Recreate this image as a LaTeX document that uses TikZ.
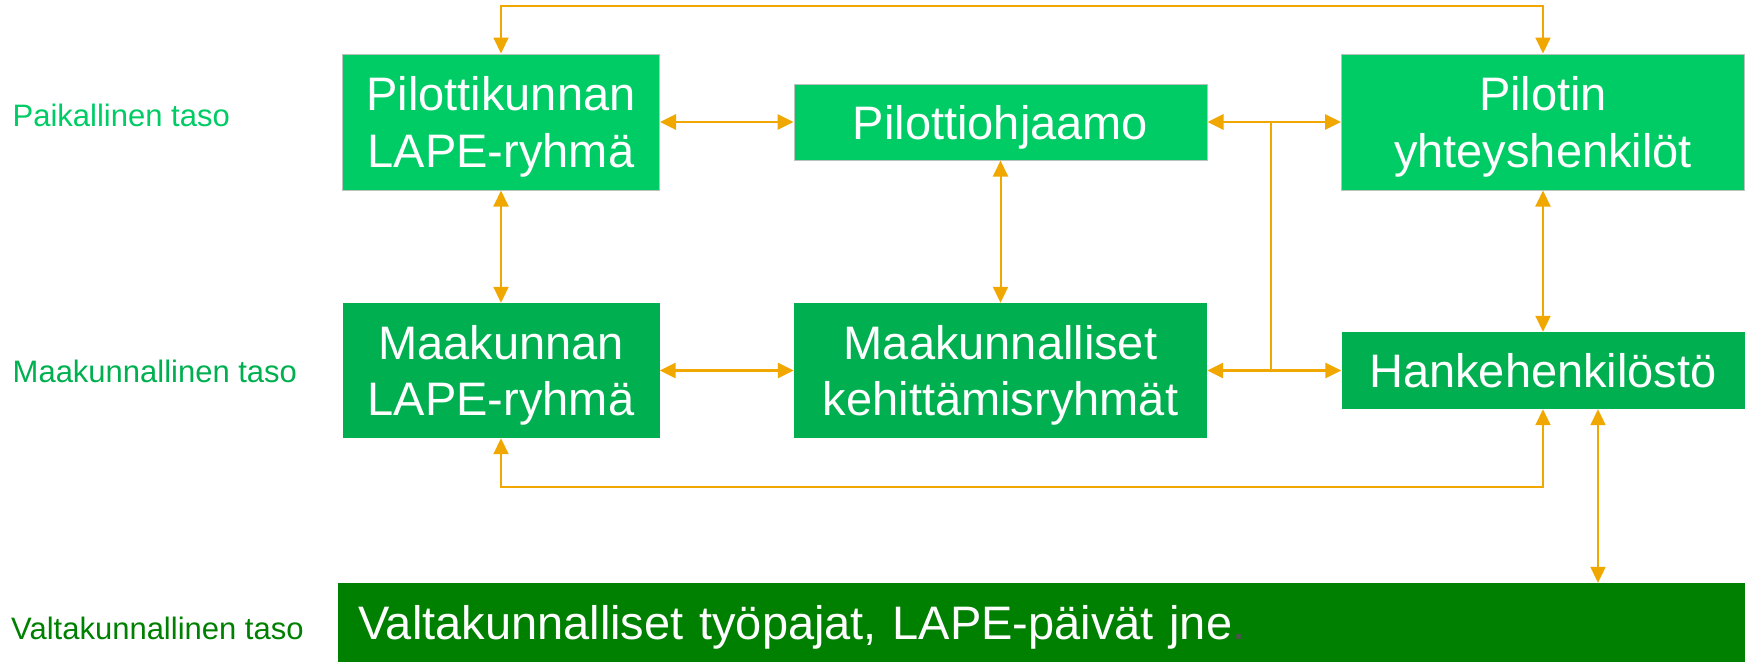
\documentclass[tikz,border=0pt]{standalone}
\usepackage{fontspec}
\setmainfont{Liberation Sans}
\usepackage{tikz}
\usetikzlibrary{positioning,arrows.meta}
\definecolor{paikgreen}{RGB}{0,204,102}
\definecolor{maakgreen}{RGB}{0,176,80}
\definecolor{valtgreen}{RGB}{0,128,0}
\definecolor{linkorange}{RGB}{240,168,0}
\definecolor{boxedge}{RGB}{185,195,190}
\definecolor{dotgray}{RGB}{80,80,80}
\setlength{\parindent}{0pt}
\newcommand{\boxtop}{\rule{0pt}{44pt}}
\newcommand{\boxbot}{\rule[-10pt]{0pt}{0pt}}
\tikzset{
  box/.style={
    text=white,
    font=\fontsize{47}{56.5}\selectfont,
    align=center,
    inner sep=0pt
  },
  topbox/.style={box, fill=paikgreen, draw=boxedge, line width=1pt},
  midbox/.style={box, fill=maakgreen},
  level/.style={
    font=\fontsize{31}{37}\selectfont,
    anchor=base west,
    inner sep=0pt
  },
  link/.style={
    draw=linkorange, line width=2pt,
    {Triangle[length=16pt,width=15pt]}-{Triangle[length=16pt,width=15pt]}
  },
  thicklink/.style={link, line width=2.8pt}
}
\begin{document}
\begin{tikzpicture}[x=1pt,y=1pt]
      \useasboundingbox (0,0) rectangle (1748,-662);
      \node[topbox, minimum width=317pt, minimum height=136pt] (Kunta) at (501,-122)
      {\boxtop Pilottikunnan\\LAPE-ryhmä\boxbot};
      \node[topbox, on grid, right=499.5pt of Kunta, minimum width=413pt, minimum height=76pt] (Ohjaamo)
      {\boxtop Pilottiohjaamo\boxbot};
      \node[topbox, on grid, right=542.5pt of Ohjaamo, minimum width=403pt, minimum height=136pt] (Yhteys)
      {\boxtop Pilotin\\yhteyshenkilöt\boxbot};
      \node[midbox, on grid, below=248.5pt of Kunta, minimum width=317pt, minimum height=135pt] (Maakunta)
      {\boxtop Maakunnan\\LAPE-ryhmä\boxbot};
      \node[midbox, on grid, below=248.5pt of Ohjaamo, minimum width=413pt, minimum height=135pt] (Kehitys)
      {\boxtop Maakunnalliset\\kehittämisryhmät\boxbot};
      \node[midbox, on grid, below=248.5pt of Yhteys, minimum width=403pt, minimum height=77pt] (Hanke)
      {\boxtop Hankehenkilöstö\boxbot};
      \node[box, fill=valtgreen, minimum width=1407pt, minimum height=79pt,
      text width=1367pt, inner xsep=20pt, align=left] (Valta) at (1041.5,-622.5)
      {\boxtop Valtakunnalliset työpajat, LAPE-päivät jne\textcolor{dotgray}{.}\boxbot};

      \node[level, text=paikgreen] (Paik) at (12.5,-126.7) {Paikallinen taso};
      \node[level, text=maakgreen] (Maak) at (12.5,-382) {Maakunnallinen taso};
      \node[level, text=valtgreen] (Valt) at (11,-639) {Valtakunnallinen taso};

      \coordinate (TopMid) at (1000,-6);
      \coordinate (BotMid) at (1000,-486.5);
      \coordinate (Jtop) at (1271,-122);
      \coordinate (Jbot) at (1271,-370.5);
      \draw[link] (Kunta.north) |- (TopMid) -| (Yhteys.north);
      \draw[link] (Maakunta.south) |- (BotMid) -| (Hanke.south);
      \draw[link] (Kunta) -- (Maakunta);
      \draw[link] (Ohjaamo) -- (Kehitys);
      \draw[link] (Yhteys) -- (Hanke);
      \draw[thicklink] (Kunta) -- (Ohjaamo);
      \draw[thicklink] (Maakunta) -- (Kehitys);
      \draw[thicklink] (Ohjaamo) -- (Yhteys);
      \draw[thicklink] (Kehitys) -- (Hanke);
      \draw[thicklink, -] (Jtop) -- (Jbot);
      \draw[link] ([xshift=55pt]Hanke.south) -- ([xshift=55pt]Hanke.south |- Valta.north);
\end{tikzpicture}
\end{document}
